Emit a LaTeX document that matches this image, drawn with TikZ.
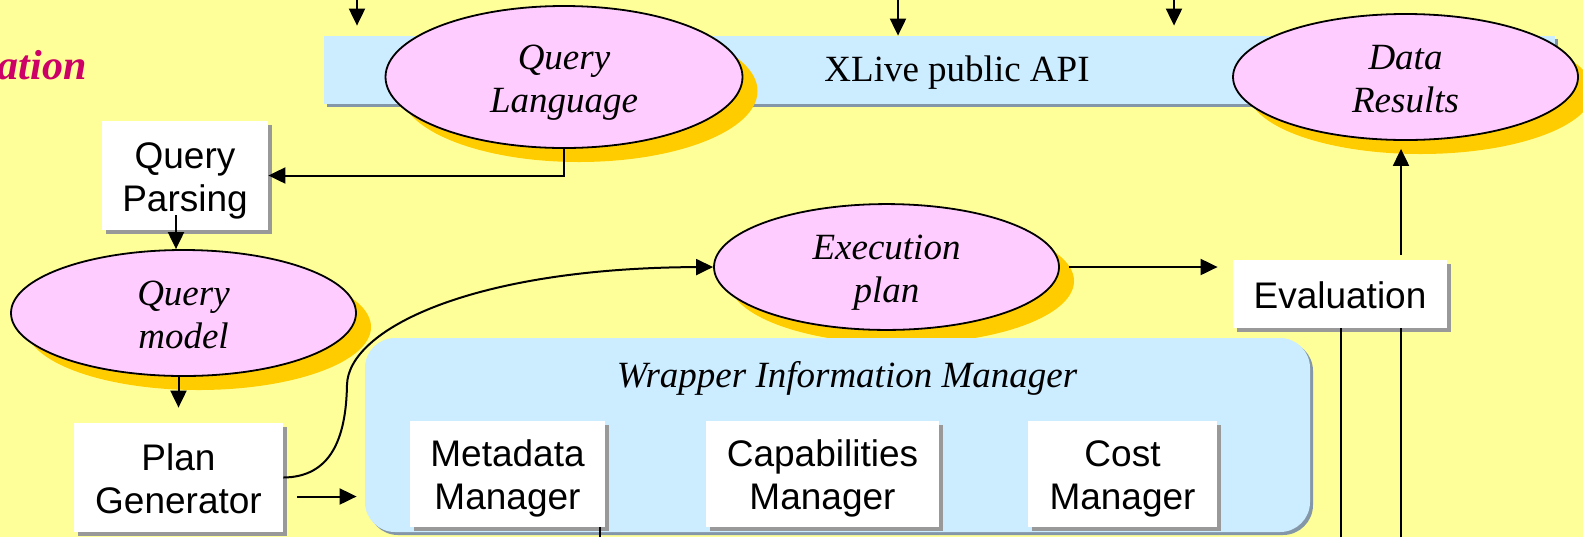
\documentclass[tikz,border=0pt]{standalone}
\usepackage{fontspec}
\setmainfont{Liberation Serif}
\newfontfamily\sansfont{Liberation Sans}
\usetikzlibrary{shapes.geometric,shadows,arrows.meta,calc}

\definecolor{bgyellow}{HTML}{FFFF99}
\definecolor{bubblepink}{HTML}{FFCCFF}
\definecolor{bubbleshade}{HTML}{FFCC00}
\definecolor{panelblue}{HTML}{CCECFF}
\definecolor{panelshade}{HTML}{8497A8}
\definecolor{boxshade}{HTML}{999999}
\definecolor{titlemagenta}{HTML}{CC0066}

\newcommand\bxfont{\sansfont\fontsize{18.5pt}{21.5pt}\selectfont}
\newcommand\blfont{\fontsize{18.5pt}{21.5pt}\selectfont\itshape}
\newcommand\apifont{\fontsize{18.5pt}{21.5pt}\selectfont}
% uniform line metrics: tall first line, deep last line
\newcommand\topln{\rule{0pt}{18.5pt}}
\newcommand\botln{\rule[-4.5pt]{0pt}{0pt}}

\tikzset{
  bubble/.style={ellipse, fill=bubblepink, draw=black, line width=0.9pt,
    inner sep=0pt, align=center, font=\blfont,
    drop shadow={shadow xshift=7.5pt, shadow yshift=-7pt, fill=bubbleshade, opacity=1}},
  sbox/.style={rectangle, fill=white, inner sep=0pt, align=center, font=\bxfont,
    drop shadow={shadow xshift=2pt, shadow yshift=-2pt, fill=boxshade, opacity=1}},
  panel/.style={rectangle, fill=panelblue, inner sep=0pt,
    drop shadow={shadow xshift=1.5pt, shadow yshift=-1.5pt, fill=panelshade, opacity=1}},
  arr/.style={-{Triangle[length=8.5pt,width=8pt]}, line width=1pt},
  wire/.style={line width=1pt}
}

\begin{document}
\begin{tikzpicture}[x=0.5pt,y=-0.5pt]
  % canvas
  \useasboundingbox (0,0) rectangle (1583,537);
  \fill[bgyellow] (0,0) rectangle (1583,537);

  % cut-off heading
  \node[anchor=base east, inner sep=0pt, text=titlemagenta,
        font=\fontsize{21pt}{24pt}\selectfont\bfseries\itshape] (heading) at (87,79) {ation};

  % public API bar
  \node[panel, minimum width=615.5pt, minimum height=34pt] (api) at (939.5,70) {};
  \node[font=\apifont, inner sep=0pt] (apilabel) at (957,73) {XLive public API};

  % incoming calls from above
  \coordinate (t1) at (357,0);
  \coordinate (t2) at (898,0);
  \coordinate (t3) at (1174,0);
  \draw[arr, shorten >=5pt] (t1) -- (t1 |- api.north);
  \draw[arr] (t2) -- (t2 |- api.north);
  \draw[arr, shorten >=5pt] (t3) -- (t3 |- api.north);

  % data objects
  \node[bubble, minimum width=178.5pt, minimum height=71pt] (ql) at (564,77) {\topln Query\\Language\botln};
  \node[bubble, minimum width=172.5pt, minimum height=63pt] (dr) at (1405.5,77) {\topln Data\\Results\botln};
  \node[bubble, minimum width=172.5pt, minimum height=63pt] (qm) at (183.5,313) {\topln Query\\model\botln};
  \node[bubble, minimum width=172.5pt, minimum height=62pt] (ep) at (886.5,267) {\topln Execution\\plan\botln};

  % processing steps
  \node[sbox, minimum width=83pt, minimum height=54.5pt] (qp) at (185,175.5) {\topln Query\\Parsing\botln};
  \node[sbox, minimum width=104.5pt, minimum height=54.5pt] (pg) at (178.5,477.5) {\topln Plan\\Generator\botln};

  % wrapper information manager
  \node[panel, rounded corners=15pt, minimum width=472.5pt, minimum height=97pt] (wim) at (837.5,435) {};
  \node[font=\blfont, inner sep=0pt] (wimtitle) at (847,378) {Wrapper Information Manager};
  \node[sbox, minimum width=97.5pt, minimum height=53pt] (md) at (507.5,474) {\topln Metadata\\Manager\botln};
  \node[sbox, minimum width=116.5pt, minimum height=53pt] (cap) at (822.5,474) {\topln Capabilities\\Manager\botln};
  \node[sbox, minimum width=94.5pt, minimum height=53pt] (cost) at (1122.5,474) {\topln Cost\\Manager\botln};

  % flow between steps
  \coordinate (qpout) at ($(qp.south)+(-9,-15)$);
  \coordinate (pgout) at ($(pg.east)+(0,19)$);
  \draw[arr] (ql.south) |- (qp.east);
  \draw[arr] (qpout) -- (qpout |- qm.north);
  \draw[arr, shorten >=7.5pt] (qm.south -| pg.north) -- (pg.north);
  \draw[arr, shorten <=7pt, shorten >=4pt] (pgout) -- (pgout -| wim.west);
  \draw[arr] (pg.east) .. controls (330,477) and (346,440) .. (347,385)
                       .. controls (348,330) and (470,268) .. (ep.west);

  % lines leaving the picture at the bottom
  \coordinate (b1) at (1341,537);
  \coordinate (b2) at (1401,537);
  \coordinate (b3) at (600,537);
  \draw[wire] (b3) -- (b3 |- md.south);

  % evaluation
  \node[sbox, minimum width=107pt, minimum height=34pt] (ev) at (1340,294) {\topln Evaluation\botln};
  \draw[arr, shorten <=4.5pt, shorten >=7.5pt] (ep.east) -- (ep.east -| ev.west);
  \draw[wire] (b1) -- (b1 |- ev.south);
  \draw[wire] (b2) -- (b2 |- ev.south);
  \draw[arr, shorten >=4pt] ([yshift=2.5pt]ev.north -| b2) -- (b2 |- dr.south);
\end{tikzpicture}
\end{document}
